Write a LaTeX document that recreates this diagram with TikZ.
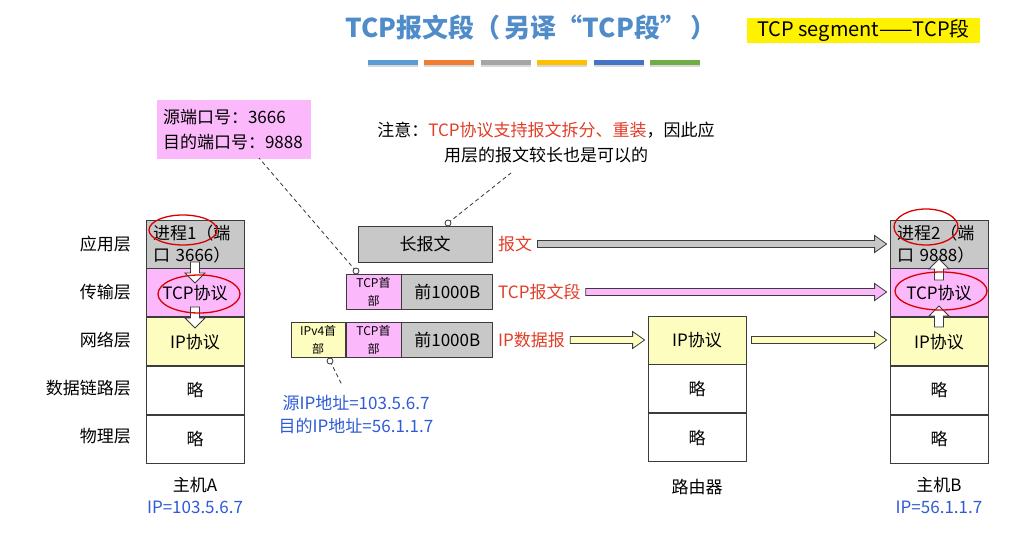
\documentclass[tikz,border=0pt]{standalone}
\usepackage{fontspec}
\setmainfont{Noto Sans CJK SC}
\usepackage{xcolor}
\usepackage{tikz}
\usetikzlibrary{calc,positioning}
\definecolor{gris}{HTML}{C8C8C8}
\definecolor{rosa}{HTML}{FBB8FB}
\definecolor{amarillo}{HTML}{FDFDC0}
\definecolor{rojo}{HTML}{E23D28}
\definecolor{azul}{HTML}{2E5BD6}
\definecolor{azultit}{HTML}{4F8CC9}
\definecolor{borde}{HTML}{3C3C3C}
\definecolor{barraA}{HTML}{5B9BD5}
\definecolor{barraB}{HTML}{ED7D31}
\definecolor{barraC}{HTML}{A5A5A5}
\definecolor{barraD}{HTML}{FFC000}
\definecolor{barraE}{HTML}{4472C4}
\definecolor{barraF}{HTML}{70AD47}
\newcommand{\tamnormal}{\fontsize{17}{22}\selectfont}
\newcommand{\tampeq}{\fontsize{12}{18}\selectfont}
\tikzset{
  capa/.style={draw=borde,line width=0.8pt,minimum width=98pt,minimum height=48pt,inner sep=0pt,font=\tamnormal},
  bloque/.style={draw=borde,line width=0.8pt,minimum height=35pt,inner sep=0pt,font=\tamnormal},
  cabecera/.style={bloque,minimum width=55pt,align=center,font=\tampeq},
  etiq/.style={font=\tamnormal,inner sep=0pt},
  rotulo/.style={font=\tamnormal,text=rojo,inner sep=0pt},
  flechag/.style={draw=borde,line width=0.8pt},
  hueca/.style={draw=borde,fill=white,line width=0.8pt},
  guia/.style={dash pattern=on 4pt off 3pt,line width=0.8pt,black!80},
  marca/.style={draw=black!80,fill=white,line width=0.8pt},
  mano/.style={draw=red!85!black,line width=1.3pt}
}
% flecha gruesa hueca entre dos nodos: relleno, origen, destino
\newcommand{\flechagorda}[3]{%
  \draw[flechag,fill=#1] let \p1=($(#2.east)+(5pt,0)$), \p2=($(#3.west)+(-3pt,0)$) in
    (\x1,\y1+3.5pt) -- (\x2-12pt,\y1+3.5pt) -- (\x2-12pt,\y1+8.5pt) -- (\x2,\y1)
    -- (\x2-12pt,\y1-8.5pt) -- (\x2-12pt,\y1-3.5pt) -- (\x1,\y1-3.5pt) -- cycle;}
% flecha blanca vertical: punto de partida, sentido (1 abajo, -1 arriba)
\newcommand{\flechablanca}[2]{%
  \draw[hueca,shift={#1},yscale=#2] (-4.5,0) -- (4.5,0) -- (4.5,11) -- (10,11)
    -- (0,21) -- (-10,11) -- (-4.5,11) -- cycle;}

\begin{document}
\begin{tikzpicture}[x=1pt,y=-1pt]
\useasboundingbox (0,0) rectangle (1035,543);
% titulo
\node[font=\fontsize{26}{30}\selectfont\bfseries,text=azultit] (titulo) at (531,28) {TCP报文段（\,另译“TCP段”\,）};
\node[fill=yellow,minimum width=233pt,minimum height=25pt,inner sep=0pt,font=\fontsize{20}{24}\selectfont] (segmento) at (863.5,30.5) {TCP segment——TCP段};
\foreach \col [count=\i from 0] in {barraA,barraB,barraC,barraD,barraE,barraF}{
  \fill[gray!30] (368+56.4*\i,62) rectangle ++(50,5);
  \fill[\col] (368+56.4*\i,60) rectangle ++(50,5);
}
% nombres de las capas
\foreach \t/\y in {应用层/244,传输层/292,网络层/340,数据链路层/388,物理层/436}
  \node[etiq,anchor=east] (capa\y) at (131,\y) {\t};
% host A
\node[capa,fill=gris,align=left,text width=84pt] (a1) at (195,244) {进程1（端\\口 3666）};
\node[capa,fill=rosa,below=0pt of a1] (a2) {TCP协议};
\node[capa,fill=amarillo,below=0pt of a2] (a3) {IP协议};
\node[capa,below=0pt of a3] (a4) {略};
\node[capa,below=0pt of a4] (a5) {略};
\node[etiq] (nomA) at (195,485) {主机A};
\node[etiq,text=azul] (ipA) at (195,507) {IP=103.5.6.7};
\flechablanca{(195,262)}{1}
\flechablanca{(195,307)}{1}
% router
\node[capa,fill=amarillo] (r1) at (697,340) {IP协议};
\node[capa,below=0pt of r1] (r2) {略};
\node[capa,below=0pt of r2] (r3) {略};
\node[etiq] (nomR) at (697,487) {路由器};
% host B
\node[capa,fill=gris,align=left,text width=84pt] (b1) at (939,244) {进程2（端\\口 9888）};
\node[capa,fill=rosa,below=0pt of b1] (b2) {TCP协议};
\node[capa,fill=amarillo,below=0pt of b2] (b3) {IP协议};
\node[capa,below=0pt of b3] (b4) {略};
\node[capa,below=0pt of b4] (b5) {略};
\node[etiq] (nomB) at (939,485) {主机B};
\node[etiq,text=azul] (ipB) at (939,507) {IP=56.1.1.7};
\flechablanca{(939,280)}{-1}
\flechablanca{(939,327)}{-1}
% mensajes
\node[bloque,fill=gris,minimum width=134pt,minimum height=36pt] (msg) at (425,244) {长报文};
\node[cabecera,fill=rosa] (tcph1) at (373.5,291.5) {TCP首\\部};
\node[bloque,fill=gris,minimum width=91pt,right=0pt of tcph1] (dat1) {前1000B};
\node[cabecera,fill=rosa] (tcph2) at (373.5,339.5) {TCP首\\部};
\node[bloque,fill=gris,minimum width=91pt,right=0pt of tcph2] (dat2) {前1000B};
\node[cabecera,fill=amarillo,minimum width=54pt,left=0pt of tcph2] (iph) {IPv4首\\部};
\node[rotulo,anchor=west] (lmsg) at (498,244) {报文};
\node[rotulo,anchor=west] (lseg) at (498,292) {TCP报文段};
\node[rotulo,anchor=west] (ldat) at (498,340) {IP数据报};
\flechagorda{gris}{lmsg}{b1}
\flechagorda{rosa}{lseg}{b2}
\flechagorda{amarillo}{ldat}{r1}
\flechagorda{amarillo}{r1}{b3}
% notas
\node[draw=none,fill=rosa,minimum width=154pt,minimum height=59pt,text width=142pt,align=left,
  font=\fontsize{17}{25}\selectfont,inner sep=0pt] (puerto) at (234,129.5) {源端口号：3666\\目的端口号：9888};
\node[align=center,font=\fontsize{17}{25}\selectfont,inner sep=0pt] (nota) at (546,143)
  {注意：\textcolor{rojo}{TCP协议支持报文拆分、重装}，因此应\\用层的报文较长也是可以的};
\node[align=center,text=azul,font=\fontsize{17}{23}\selectfont,inner sep=0pt] (dirip) at (356,414.5)
  {源IP地址=103.5.6.7\\目的IP地址=56.1.1.7};
\coordinate (o1) at (448,223);
\coordinate (n1) at (511,173);
\coordinate (o2) at (356,271);
\coordinate (p1) at (259,158);
\coordinate (o3) at (330,361);
\coordinate (i1) at (342,385);
\draw[guia] (o1) -- (n1);
\draw[guia] (o2) -- (p1);
\draw[guia] (o3) -- (i1);
\foreach \o in {o1,o2,o3} \draw[marca] (\o) circle (3pt);
% trazos a mano
\draw[mano] (183,230) ellipse [x radius=34pt,y radius=15pt];
\draw[mano] (199,294) ellipse [x radius=41pt,y radius=19pt];
\draw[mano] (926,227) ellipse [x radius=32pt,y radius=18pt];
\draw[mano] (941,291) ellipse [x radius=46pt,y radius=19pt];
\end{tikzpicture}
\end{document}
